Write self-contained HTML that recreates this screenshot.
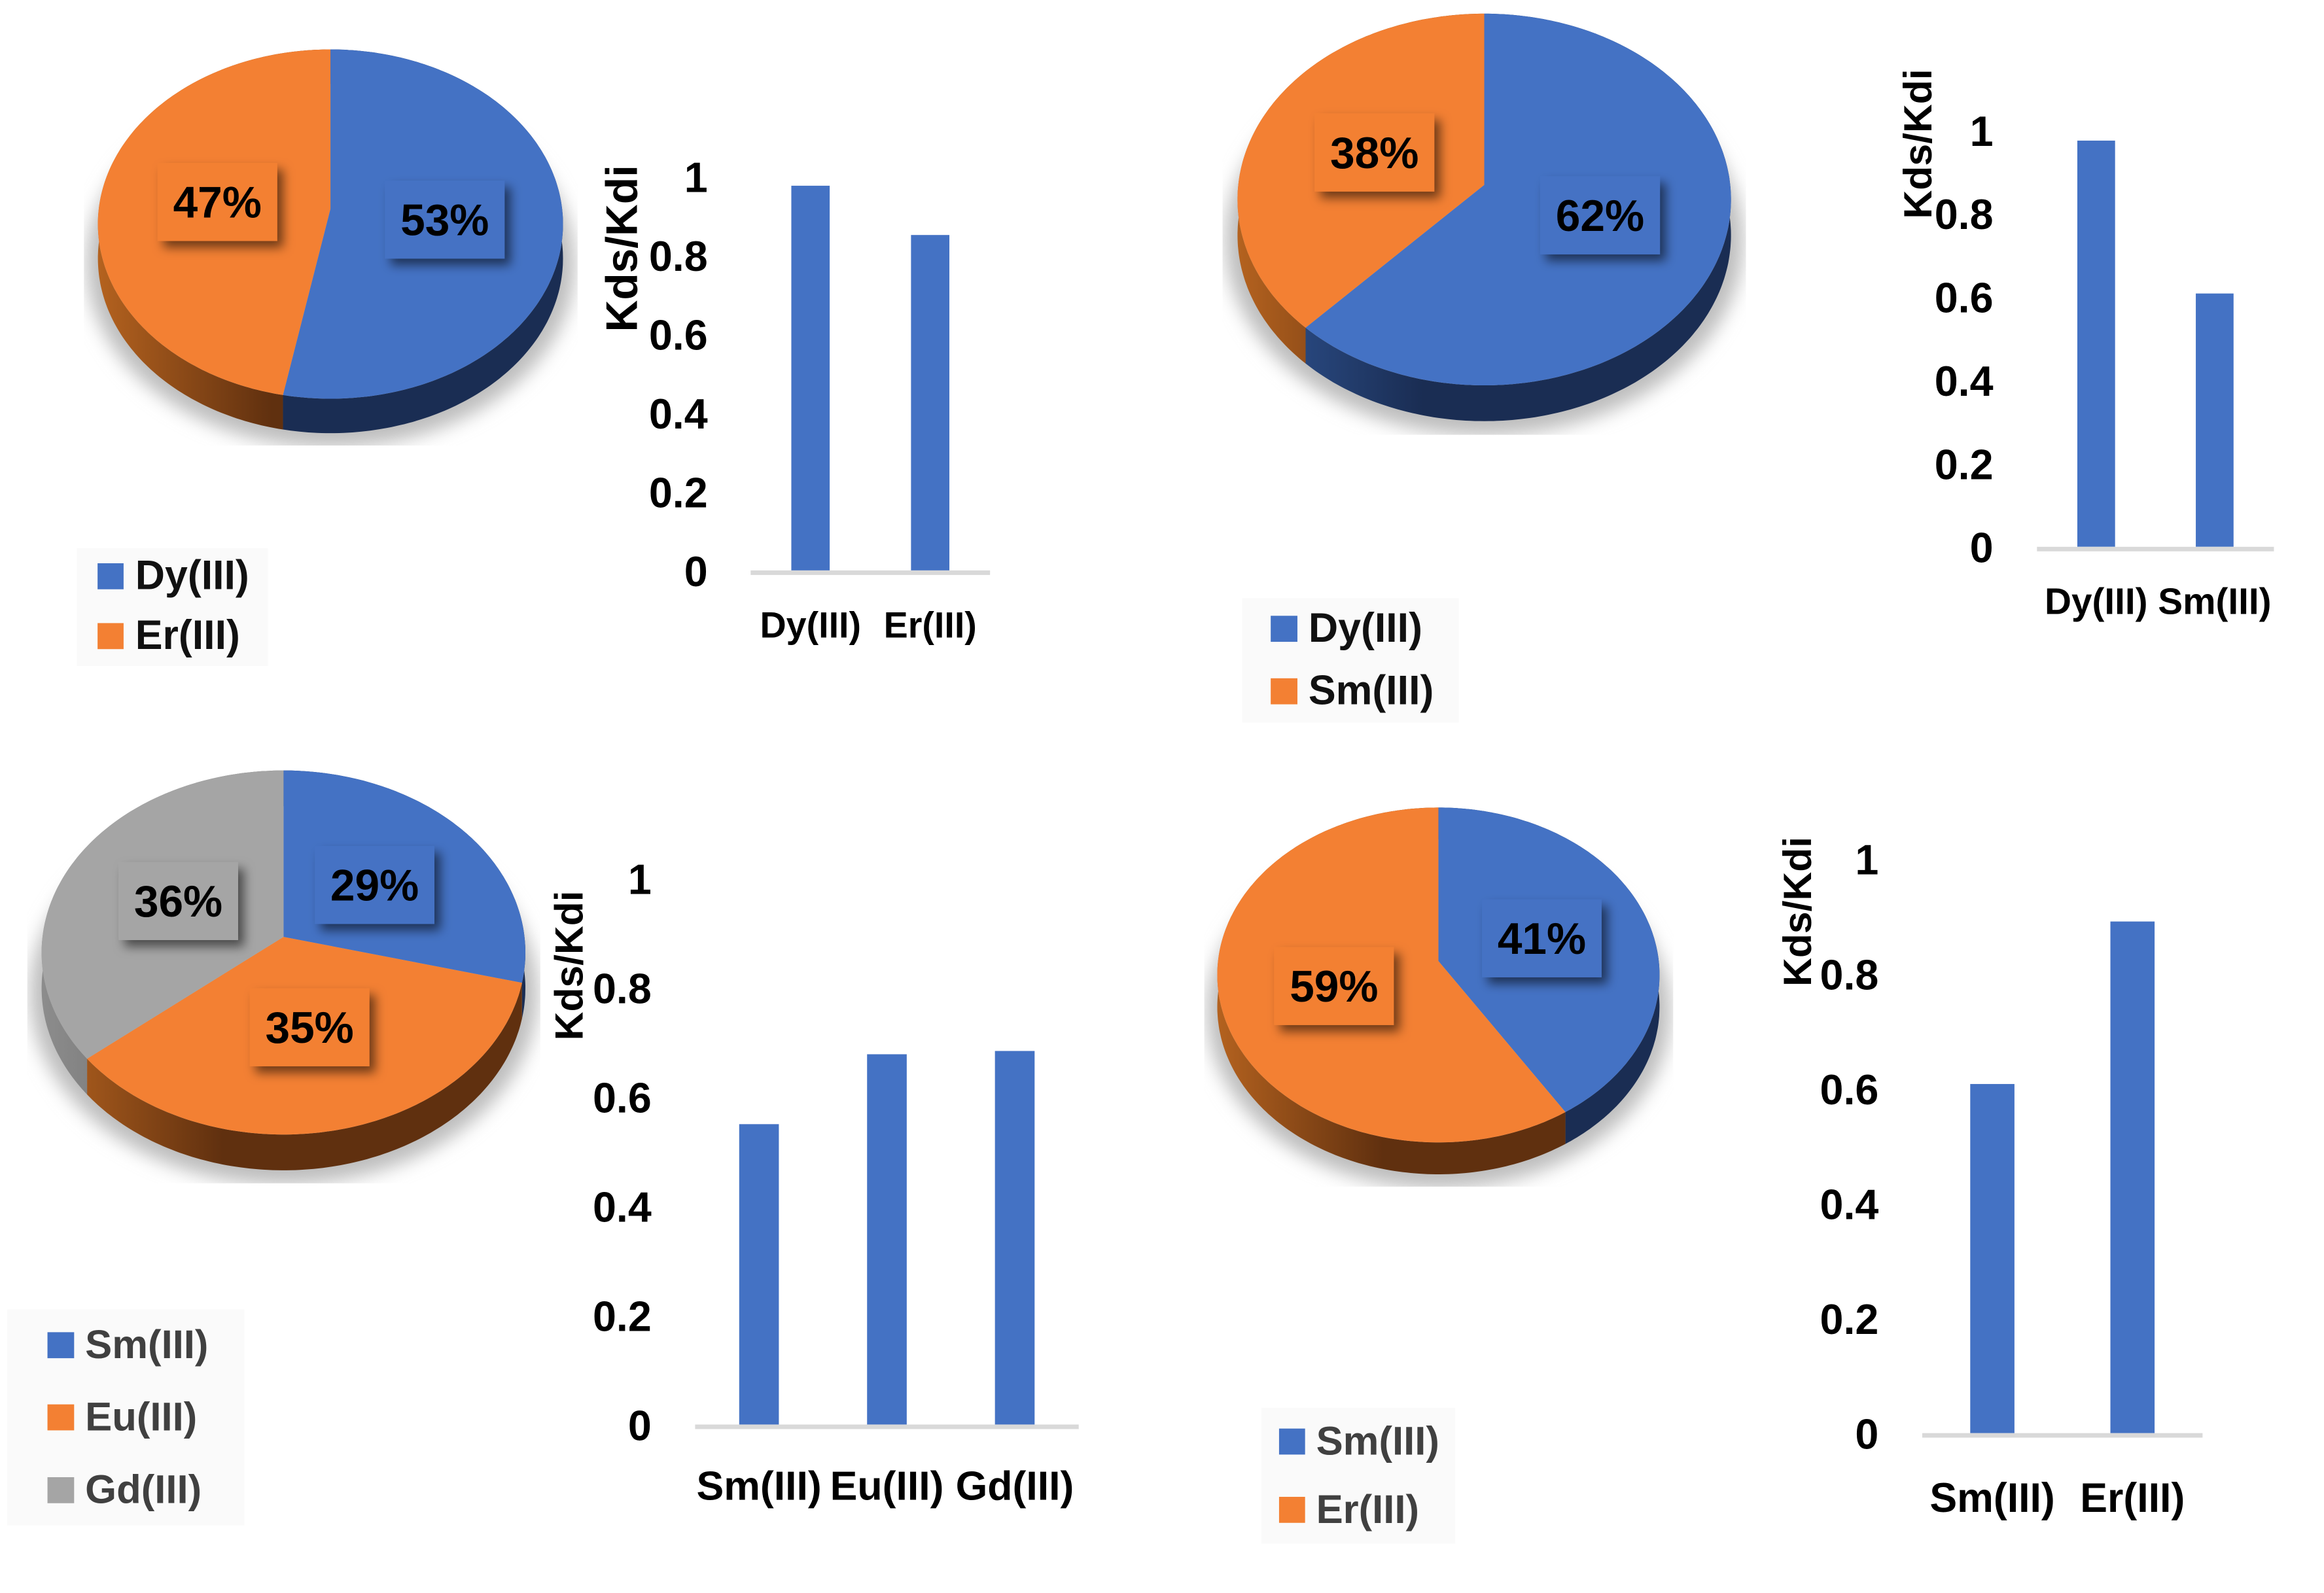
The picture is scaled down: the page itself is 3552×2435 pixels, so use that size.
<!DOCTYPE html>
<html lang="en">
<head>
<meta charset="utf-8">
<title>Pie and bar charts of Kds/Kdi</title>
<style>
html,body{margin:0;padding:0;background:#fff;}
svg{display:block;}
text{font-family:"Liberation Sans",sans-serif;font-weight:700;}
</style>
</head>
<body>
<svg id="figure" xmlns="http://www.w3.org/2000/svg" width="3552" height="2435" viewBox="0 0 3552 2435">
<defs>
<filter id="labelShadow" x="-20%" y="-20%" width="150%" height="150%"><feDropShadow dx="9" dy="10" stdDeviation="8" flood-color="#000" flood-opacity="0.55"/></filter>
<filter id="pieShadow" x="-20%" y="-20%" width="140%" height="140%"><feGaussianBlur stdDeviation="14"/></filter>
</defs>
</svg>
<script>
// ---------- chart data ----------
const yTickValues = [0, 0.2, 0.4, 0.6, 0.8, 1];
const yTickLabels = ['0', '0.2', '0.4', '0.6', '0.8', '1'];

const categoriesA = ['Dy(III)', 'Er(III)'];
const sharesA = [53, 47];
const ratiosA = [0.976, 0.851];

const categoriesB = ['Dy(III)', 'Sm(III)'];
const sharesB = [62, 38];
const ratiosB = [0.975, 0.608];

const categoriesC = ['Sm(III)', 'Eu(III)', 'Gd(III)'];
const sharesC = [29, 35, 36];
const ratiosC = [0.55, 0.678, 0.684];

const categoriesD = ['Sm(III)', 'Er(III)'];
const sharesD = [41, 59];
const ratiosD = [0.608, 0.891];

// ---------- series colours ----------
const topColors = ['#4472c4', '#f38033', '#a5a5a5'];
const wallLight = ['#2f5493', '#b4621f', '#8c8c8c'];
const wallDark = ['#1a2d53', '#60300f', '#666666'];

// ---------- panel layout ----------
const panels = [
  {id: 'a', cats: categoriesA, shares: sharesA, ratios: ratiosA, origin: [0, 0], fit: 0.9942,
   pie: {ax: 508, ay: 321, left: 151, right: 866, top: 76, bottom: 613, depth: 53, shL: 129, shR: 888, shB: 685, nudgeX: [-3, 2], nudgeY: [4, 2]},
   legend: {x: 118, y: 843, w: 294, h: 181, swX: 150, swW: 40, swH: 40, textX: 208, fs: 63, color: '#111111', base: [906, 998]},
   bars: {x0: 1154, x1: 1522, y0: 877, span: 606, barW: 59, tickX: 1088, tickFs: 65, catFs: 56, catY: 980, titleX: 979, titleY: 382, titleFs: 68}},
  {id: 'b', cats: categoriesB, shares: sharesB, ratios: ratiosB, origin: [1776, 0], fit: 0.995,
   pie: {ax: 2271, ay: 284, left: 1893, right: 2651, top: 21, bottom: 592, depth: 55, shL: 1869, shR: 2673, shB: 668, nudgeX: [-3, 2], nudgeY: [-7, 1]},
   legend: {x: 1899, y: 919, w: 333, h: 191, swX: 1943, swW: 41, swH: 40, textX: 2001, fs: 63, color: '#111111', base: [986, 1082]},
   bars: {x0: 3120, x1: 3484, y0: 840, span: 640, barW: 58, tickX: 3053, tickFs: 65, catFs: 57, catY: 943, titleX: 2958, titleY: 221, titleFs: 61}},
  {id: 'c', cats: categoriesC, shares: sharesC, ratios: ratiosC, origin: [0, 1130], fit: 0.9938,
   pie: {ax: 436, ay: 1434, left: 65, right: 809, top: 1178, bottom: 1738, depth: 55, shL: 42, shR: 831, shB: 1813, nudgeX: [1, -4, 0], nudgeY: [1, -9, 2]},
   legend: {x: 11, y: 2007, w: 365, h: 332, swX: 73, swW: 41, swH: 40, textX: 131, fs: 62, color: '#404040', base: [2082, 2193, 2305]},
   bars: {x0: 1069, x1: 1659, y0: 2184, span: 840, barW: 61, tickX: 1002, tickFs: 65, catFs: 63, catY: 2300, titleX: 896, titleY: 1478, titleFs: 61}},
  {id: 'd', cats: categoriesD, shares: sharesD, ratios: ratiosD, origin: [1776, 1130], fit: 0.994,
   pie: {ax: 2201, ay: 1471, left: 1860, right: 2540, top: 1235, bottom: 1750, depth: 49, shL: 1841, shR: 2562, shB: 1818, nudgeX: [0, 6], nudgeY: [0, 2]},
   legend: {x: 1929, y: 2158, w: 298, h: 209, swX: 1956, swW: 40, swH: 40, textX: 2013, fs: 62, color: '#404040', base: [2230, 2335]},
   bars: {x0: 2945, x1: 3376, y0: 2197, span: 883, barW: 68, tickX: 2878, tickFs: 65, catFs: 63, catY: 2318, titleX: 2774, titleY: 1395, titleFs: 61}}
];

const NS = 'http://www.w3.org/2000/svg';
const svg = document.getElementById('figure');
const defs = svg.querySelector('defs');

function make(tag, parent, props) {
  const el = document.createElementNS(NS, tag);
  for (const key in props) { el.setAttribute(key, props[key]); }
  parent.appendChild(el);
  return el;
}

// Perspective projection of a circle angle (clockwise from 12 o'clock) on the pie plane.
function projector(p) {
  const T = p.ay - p.top, B = p.bottom - p.ay;
  const k = (T - B) / (T + B);
  const a = B * (1 + k);
  const R = (p.right - p.left) / 2 * Math.sqrt(1 - k * k);
  return function (deg, frac) {
    const t = deg * Math.PI / 180;
    const u = Math.sin(t), v = -Math.cos(t);
    const den = 1 + k * v;
    const f = frac === undefined ? 1 : frac;
    return [p.ax + f * R * u / den, p.ay + f * a * v / den];
  };
}

function pts(list) {
  return list.map(function (q) { return q[0].toFixed(1) + ',' + q[1].toFixed(1); }).join(' ');
}

function drawPie(panel, host) {
  const p = panel.pie;
  const proj = projector(p);
  const group = make('g', host, {});
  
  

  // shadow, clipped to a rectangle at its base
  const clip = make('clipPath', defs, {id: 'shadowClip' + panel.id});
  make('rect', clip, {x: p.shL, y: p.top, width: p.shR - p.shL, height: p.shB - p.top});
  const shadowHolder = make('g', group, {'clip-path': 'url(#shadowClip' + panel.id + ')'});
  const shadow = make('ellipse', shadowHolder, {
    cx: (p.shL + p.shR) / 2,
    cy: (p.top + p.bottom) / 2 + p.depth + 8,
    rx: (p.shR - p.shL) / 2 - 4,
    ry: (p.bottom - p.top) / 2 + 14,
    fill: '#bdbdbd', filter: 'url(#pieShadow)'
  });
  
  

  const total = panel.shares.reduce(function (s, v) { return s + v; }, 0);
  const rx = (p.right - p.left) / 2;
  let start = 0;
  const arcs = panel.shares.map(function (value) {
    const arc = {from: start, to: start + value / total * 360};
    start = arc.to;
    return arc;
  });

  arcs.forEach(function (arc, i) {
    const grad = make('linearGradient', defs, {
      id: 'wall' + panel.id + i, gradientUnits: 'userSpaceOnUse',
      x1: p.left, y1: 0, x2: p.ax - 0.25 * rx, y2: 0
    });
    make('stop', grad, {offset: 0, 'stop-color': wallLight[i]});
    make('stop', grad, {offset: 1, 'stop-color': wallDark[i]});
    const rim = [];
    for (let d = arc.from; d < arc.to; d += 1) { rim.push(proj(d)); }
    rim.push(proj(arc.to));
    const lower = rim.slice().reverse().map(function (q) { return [q[0], q[1] + p.depth]; });
    const wall = make('polygon', group, {points: pts(rim.concat(lower)), fill: 'url(#wall' + panel.id + i + ')'});
    
    
  });

  arcs.forEach(function (arc, i) {
    const rim = [[p.ax, p.ay]];
    for (let d = arc.from; d < arc.to; d += 1) { rim.push(proj(d)); }
    rim.push(proj(arc.to));
    const slice = make('polygon', group, {points: pts(rim), fill: topColors[i]});
    
    
  });

  arcs.forEach(function (arc, i) {
    const mid = proj((arc.from + arc.to) / 2, 0.5);
    const cx = mid[0] + p.nudgeX[i];
    const cy = mid[1] + p.nudgeY[i];
    const box = make('rect', group, {x: cx - 92, y: cy - 60, width: 184, height: 120, fill: topColors[i], filter: 'url(#labelShadow)'});
    
    
    const label = make('text', group, {x: cx, y: cy + 24, 'text-anchor': 'middle', 'font-size': 68, fill: '#000'});
    label.textContent = panel.shares[i] + '%';
    
    
  });
}

function drawLegend(panel, host) {
  const l = panel.legend;
  const group = make('g', host, {});
  
  
  const bg = make('rect', group, {x: l.x, y: l.y, width: l.w, height: l.h, fill: '#fafafa'});
  
  
  panel.cats.forEach(function (cat, i) {
    const swatch = make('rect', group, {x: l.swX, y: l.base[i] - l.swH, width: l.swW, height: l.swH, fill: topColors[i]});
    
    
    const entry = make('text', group, {x: l.textX, y: l.base[i], 'font-size': l.fs, fill: l.color});
    entry.textContent = cat;
    
    
  });
}

function drawBars(panel, host) {
  const b = panel.bars;
  const group = make('g', host, {});
  
  
  const yScale = function (v) { return b.y0 - v * b.span; };
  const band = (b.x1 - b.x0) / panel.cats.length;
  const xScale = function (i) { return b.x0 + band * (i + 0.5); };

  yTickValues.forEach(function (v, i) {
    const tick = make('text', group, {x: b.tickX, y: yScale(v) + 24, 'text-anchor': 'end', 'font-size': b.tickFs, fill: '#000'});
    tick.textContent = yTickLabels[i];
    
    
  });

  panel.ratios.forEach(function (v, i) {
    const bar = make('rect', group, {x: xScale(i) - b.barW / 2, y: yScale(v), width: b.barW, height: yScale(0) - yScale(v), fill: '#4472c4'});
    
    
  });

  const axis = make('rect', group, {x: b.x0, y: b.y0, width: b.x1 - b.x0, height: 7, fill: '#d9d9d9'});
  
  

  panel.cats.forEach(function (cat, i) {
    const label = make('text', group, {x: xScale(i), y: b.catY, 'text-anchor': 'middle', 'font-size': b.catFs, fill: '#000'});
    label.textContent = cat;
    
    
  });

  const title = make('text', group, {
    transform: 'translate(' + b.titleX + ',' + b.titleY + ') rotate(-90)',
    'text-anchor': 'middle', 'font-size': b.titleFs, fill: '#000'
  });
  title.textContent = 'Kds/Kdi';
  
  
}

panels.forEach(function (panel) {
  const ox = panel.origin[0], oy = panel.origin[1];
  const host = make('g', svg, {
    transform: 'translate(' + ox + ',' + oy + ') scale(' + panel.fit + ') translate(' + (-ox) + ',' + (-oy) + ')'
  });
  
  
  drawPie(panel, host);
  drawLegend(panel, host);
  drawBars(panel, host);
});
</script>
</body>
</html>
